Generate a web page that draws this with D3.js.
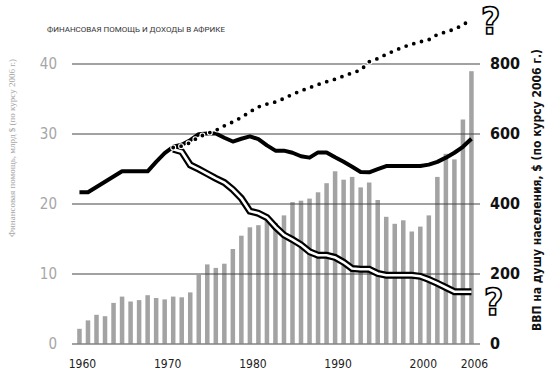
<!DOCTYPE html>
<html lang="ru">
<head>
<meta charset="UTF-8">
<title>aid-and-income</title>
<script src="https://d3js.org/d3.v7.min.js"></script>
<style>
  body { margin: 0; background: #fff; }
  .narrow { font-family: "Liberation Sans Narrow", "DejaVu Sans Condensed", Roboto, sans-serif; }
</style>
</head>
<body>
<script>
  const WIDTH = 546;
  const HEIGHT = 372;

  const years = [1960, 1961, 1962, 1963, 1964, 1965, 1966, 1967, 1968, 1969,
    1970, 1971, 1972, 1973, 1974, 1975, 1976, 1977, 1978, 1979,
    1980, 1981, 1982, 1983, 1984, 1985, 1986, 1987, 1988, 1989,
    1990, 1991, 1992, 1993, 1994, 1995, 1996, 1997, 1998, 1999,
    2000, 2001, 2002, 2003, 2004, 2005, 2006];

  // финансовая помощь, млрд $
  const aid = [2.1, 3.3, 4.1, 3.9, 5.8, 6.7, 6.0, 6.2, 6.9, 6.5,
    6.3, 6.7, 6.6, 7.3, 9.8, 11.3, 10.8, 11.4, 13.5, 15.4,
    16.6, 16.9, 17.8, 17.2, 18.3, 20.2, 20.4, 20.7, 21.6, 22.9,
    24.6, 23.4, 23.8, 22.3, 23.0, 20.5, 18.1, 17.1, 17.6, 16.0,
    16.7, 18.3, 23.8, 27.1, 26.3, 32.0, 38.9];

  // ВВП на душу населения, $
  const gdp = [432, 432, 447, 462, 477, 492, 492, 492, 492, 519,
    544, 562, 568, 581, 598, 600, 600, 588, 577, 585,
    592, 584, 566, 551, 551, 545, 535, 531, 546, 546,
    532, 519, 505, 490, 489, 498, 507, 507, 507, 507,
    507, 511, 519, 531, 545, 562, 585];

  const branchYears = [1971, 1972, 1973, 1974, 1975, 1976, 1977, 1978, 1979,
    1980, 1981, 1982, 1983, 1984, 1985, 1986, 1987, 1988, 1989,
    1990, 1991, 1992, 1993, 1994, 1995, 1996, 1997, 1998, 1999,
    2000, 2001, 2002, 2003, 2004, 2005, 2006];
  // пунктир вверх
  const gdpUp = [560, 564, 574, 590, 600, 609, 622, 633, 646,
    662, 676, 684, 690, 700, 712, 722, 731, 740, 748,
    755, 764, 773, 781, 805, 814, 826, 837, 847, 855,
    862, 868, 883, 890, 898, 910, 927];
  // двойная линия вниз
  const gdpDown = [555, 548, 510, 498, 485, 472, 460, 440, 415,
    378, 372, 360, 333, 310, 297, 282, 262, 252, 252,
    246, 232, 214, 212, 212, 200, 195, 195, 195, 195,
    192, 183, 172, 160, 148, 148, 148];

  const aidTicks = [0, 10, 20, 30, 40];
  const gdpTicks = [0, 200, 400, 600, 800];
  const yearTicks = [1960, 1970, 1980, 1990, 2000, 2006];

  const x = d3.scaleBand()
    .domain(years)
    .range([75.2, 475.7])
    .paddingInner(0.47)
    .paddingOuter(0.235);
  const cx = (d) => x(d) + x.bandwidth() / 2;

  const yL = d3.scaleLinear().domain([0, 40]).range([343.5, 63.5]);
  const yR = d3.scaleLinear().domain([0, 800]).range([343.5, 63.5]);

  const svg = d3.select('body')
    .append('svg')
    .attr('width', WIDTH)
    .attr('height', HEIGHT);

  svg.append('text')
    .attr('x', 47)
    .attr('y', 31.5)
    .attr('font-family', 'Roboto, sans-serif')
    .attr('font-size', 8)
    .attr('fill', '#333')
    .text('ФИНАНСОВАЯ ПОМОЩЬ И ДОХОДЫ В АФРИКЕ');

  // bars
  svg.append('g')
    .selectAll('rect')
    .data(years)
    .enter()
    .append('rect')
    .attr('x', (d) => x(d))
    .attr('width', x.bandwidth())
    .attr('y', (d, i) => yL(aid[i]))
    .attr('height', (d, i) => yL(0) - yL(aid[i]))
    .attr('fill', '#a3a3a3');

  // left axis + grid
  const leftAxis = svg.append('g')
    .attr('class', 'narrow')
    .attr('transform', 'translate(72,0)')
    .call(d3.axisLeft(yL).tickValues(aidTicks).tickSizeInner(-408).tickSizeOuter(0).tickPadding(15));
  leftAxis.select('.domain').remove();
  leftAxis.selectAll('line').attr('stroke', '#444');
  leftAxis.selectAll('text')
    .attr('font-size', 15)
    .attr('fill', '#a6a6a6')
    .attr('font-weight', 300);

  const rightAxis = svg.append('g')
    .attr('class', 'narrow')
    .attr('transform', 'translate(480,0)')
    .call(d3.axisRight(yR).tickValues(gdpTicks).tickSize(0).tickPadding(10));
  rightAxis.select('.domain').remove();
  rightAxis.selectAll('text')
    .attr('font-size', 16)
    .attr('font-weight', 'bold')
    .attr('fill', '#111');

  const bottomAxis = svg.append('g')
    .attr('class', 'narrow')
    .attr('transform', 'translate(3,343)')
    .call(d3.axisBottom(x).tickValues(yearTicks).tickSize(0).tickPadding(16));
  bottomAxis.select('.domain').remove();
  bottomAxis.selectAll('text')
    .attr('font-size', 12)
    .attr('fill', '#222');

  // axis titles
  svg.append('text')
    .attr('transform', 'translate(15,148) rotate(-90)')
    .attr('text-anchor', 'middle')
    .attr('font-family', '"Liberation Serif", serif')
    .attr('font-size', 9)
    .attr('fill', '#a6a6a6')
    .text('Финансовая помощь, млрд $ (по курсу 2006 г.)');

  svg.append('text')
    .attr('class', 'narrow')
    .attr('transform', 'translate(541,190) rotate(-90)')
    .attr('text-anchor', 'middle')
    .attr('font-size', 12)
    .attr('font-weight', 'bold')
    .attr('fill', '#111')
    .text('ВВП на душу населения, $ (по курсу 2006 г.)');

  // lines
  const line = d3.line()
    .x((d) => cx(d[0]))
    .y((d) => yR(d[1]));

  svg.append('path')
    .datum(years.map((d, i) => [d, gdp[i]]))
    .attr('d', line)
    .attr('fill', 'none')
    .attr('stroke', '#000')
    .attr('stroke-width', 4)
    .attr('stroke-linejoin', 'round');

  const downData = branchYears.map((d, i) => [d, gdpDown[i]]);
  svg.append('path')
    .datum(downData)
    .attr('d', line)
    .attr('fill', 'none')
    .attr('stroke', '#000')
    .attr('stroke-width', 7);
  svg.append('path')
    .datum(downData)
    .attr('d', line)
    .attr('fill', 'none')
    .attr('stroke', '#fff')
    .attr('stroke-width', 2.6);

  const upData = branchYears.map((d, i) => [d, gdpUp[i]]);
  svg.append('path')
    .datum(upData)
    .attr('d', line)
    .attr('fill', 'none')
    .attr('stroke', '#fff')
    .attr('stroke-width', 6)
    .attr('stroke-linecap', 'round')
    .attr('stroke-dasharray', '0 8');
  svg.append('path')
    .datum(upData)
    .attr('d', line)
    .attr('fill', 'none')
    .attr('stroke', '#000')
    .attr('stroke-width', 3.8)
    .attr('stroke-linecap', 'round')
    .attr('stroke-dasharray', '0 8');

  // question marks
  svg.selectAll('.q')
    .data([[481, 34, 37], [484, 315, 37]])
    .enter()
    .append('text')
    .attr('class', 'q narrow')
    .attr('x', (d) => d[0])
    .attr('y', (d) => d[1])
    .attr('font-size', (d) => d[2])
    .attr('font-weight', 'bold')
    .attr('fill', '#fff')
    .attr('stroke', '#000')
    .attr('stroke-width', 1.6)
    .text('?');
</script>
</body>
</html>
